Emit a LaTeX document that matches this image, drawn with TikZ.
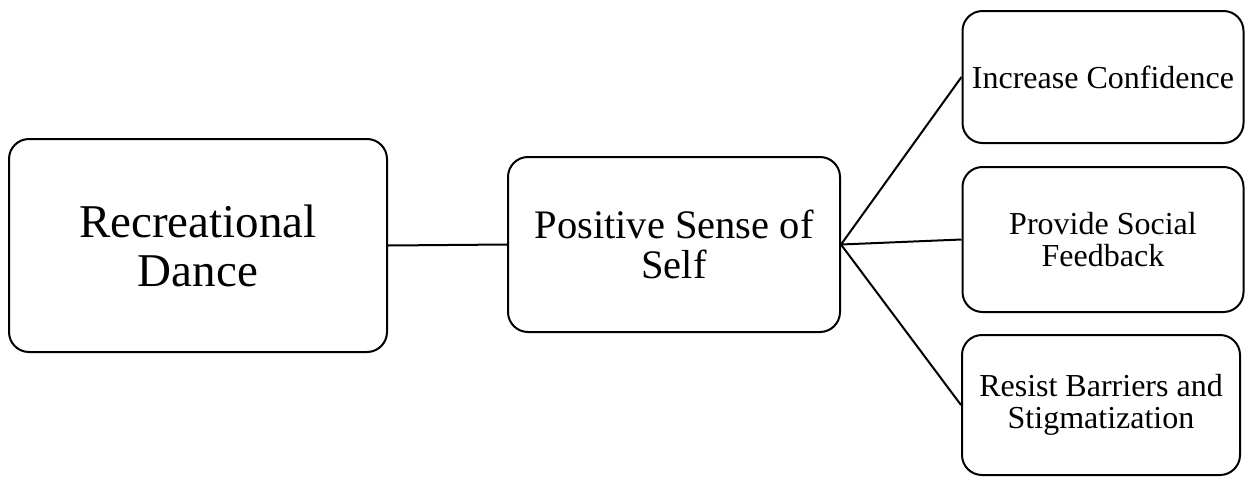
\documentclass[tikz,border=0pt]{standalone}
\usepackage{fontspec}
\setmainfont{Liberation Serif}
\begin{document}
\begin{tikzpicture}[x=1pt,y=-1pt,
  box/.style={draw=black, line width=2pt, rounded corners=20pt, fill=white, align=center, inner sep=0pt},
  conn/.style={draw=black, line width=2pt}]
\useasboundingbox (0,0) rectangle (1251,477);
\fill[white] (0,0) rectangle (1251,477);
\node[box, minimum width=378pt, minimum height=213pt, font=\fontsize{47}{49}\selectfont] (rd) at (198,245.5) {Recreational\\Dance};
\node[box, minimum width=332pt, minimum height=175pt, font=\fontsize{40.5}{40}\selectfont] (ps) at (674,244.5) {Positive Sense of\\Self};
\node[box, minimum width=281pt, minimum height=132pt, font=\fontsize{32}{32}\selectfont] (ic) at (1103,77) {Increase Confidence};
\node[box, minimum width=281pt, minimum height=145pt, font=\fontsize{32}{32}\selectfont] (sf) at (1103,239.5) {Provide Social\\Feedback};
\node[box, minimum width=278pt, minimum height=140pt, font=\fontsize{32}{32}\selectfont] (rb) at (1101,405) {Resist Barriers and\\Stigmatization};
\draw[conn] (rd.east) -- (ps.west);
\draw[conn] (ps.east) -- (ic.west);
\draw[conn] (ps.east) -- (sf.west);
\draw[conn] (ps.east) -- (rb.west);
\end{tikzpicture}
\end{document}
